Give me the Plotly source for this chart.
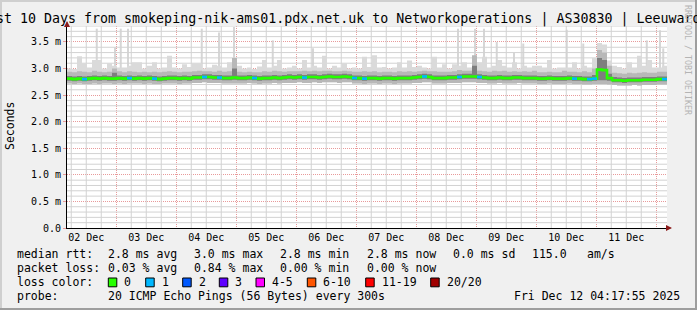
import pandas as pd
import plotly.graph_objects as go

# ---------------- data ----------------
start_time = "2025-12-02 04:17:55"
n_bins = 120  # 2-hour bins over 10 days

median_ms = [
    2.81, 2.80, 2.81, 2.80, 2.81, 2.82, 2.81, 2.82, 2.81, 2.81,
    2.82, 2.81, 2.82, 2.81, 2.82, 2.81, 2.82, 2.81, 2.80, 2.81,
    2.82, 2.82, 2.81, 2.82, 2.81, 2.83, 2.83, 2.84, 2.84, 2.83,
    2.83, 2.82, 2.82, 2.83, 2.82, 2.82, 2.83, 2.82, 2.81, 2.82,
    2.82, 2.83, 2.82, 2.83, 2.84, 2.83, 2.84, 2.83, 2.84, 2.84,
    2.83, 2.84, 2.85, 2.84, 2.84, 2.85, 2.84, 2.82, 2.82, 2.81,
    2.82, 2.82, 2.81, 2.82, 2.82, 2.81, 2.82, 2.82, 2.82, 2.83,
    2.84, 2.85, 2.84, 2.82, 2.82, 2.82, 2.83, 2.83, 2.84, 2.85,
    2.85, 2.85, 2.84, 2.83, 2.82, 2.82, 2.83, 2.82, 2.82, 2.83,
    2.83, 2.82, 2.82, 2.82, 2.81, 2.81, 2.82, 2.81, 2.81, 2.81,
    2.82, 2.81, 2.81, 2.80, 2.80, 2.81, 2.98, 2.97, 2.82, 2.78,
    2.78, 2.77, 2.78, 2.78, 2.78, 2.79, 2.79, 2.79, 2.80, 2.80,
]

smoke_max = [
    3.00, 2.99, 3.23, 3.10, 3.02, 3.16, 3.16, 3.00, 3.10, 3.05,
    3.02, 3.02, 3.05, 3.12, 3.12, 3.00, 3.05, 3.12, 3.00, 3.02,
    3.24, 3.02, 3.00, 3.08, 3.03, 3.10, 3.10, 3.00, 3.02, 3.07,
    3.05, 3.02, 3.12, 3.10, 3.05, 3.00, 3.02, 2.99, 3.04, 3.16,
    3.02, 3.05, 3.16, 3.00, 3.02, 3.05, 3.00, 3.16, 3.02, 3.05,
    3.02, 3.24, 3.00, 3.05, 3.02, 3.10, 3.00, 3.02, 3.00, 3.22,
    3.03, 3.25, 3.02, 3.03, 3.00, 3.02, 3.12, 3.02, 3.15, 3.03,
    3.05, 3.02, 3.00, 3.22, 3.02, 3.08, 3.00, 3.08, 3.05, 3.12,
    3.02, 3.10, 3.12, 3.22, 3.02, 3.05, 3.16, 3.05, 3.02, 3.12,
    3.00, 3.05, 3.02, 3.05, 3.05, 3.02, 3.16, 3.00, 3.02, 3.02,
    3.02, 3.12, 3.00, 3.05, 3.02, 3.20, 3.48, 3.45, 3.15, 3.05,
    3.03, 3.00, 3.12, 3.02, 3.24, 3.05, 3.16, 3.02, 3.02, 3.05,
]

smoke_p90 = [
    2.94, 2.93, 2.95, 2.94, 2.93, 2.96, 2.94, 2.93, 2.94, 3.00,
    2.95, 2.93, 2.95, 2.94, 2.93, 2.94, 2.93, 2.94, 2.93, 2.94,
    2.95, 2.94, 2.93, 2.94, 2.94, 2.95, 2.96, 2.95, 2.95, 2.94,
    2.96, 2.94, 2.95, 3.20, 2.94, 2.93, 2.94, 2.93, 2.93, 2.95,
    2.94, 2.96, 2.95, 2.94, 2.95, 2.95, 2.95, 2.96, 2.95, 2.96,
    2.95, 2.96, 2.96, 2.95, 2.95, 2.96, 2.95, 2.94, 2.94, 2.95,
    2.94, 2.95, 2.93, 2.94, 2.94, 2.93, 2.95, 2.94, 2.95, 2.94,
    2.95, 2.96, 2.95, 2.95, 2.94, 2.94, 2.94, 2.95, 2.97, 2.96,
    2.96, 3.25, 2.96, 2.95, 2.94, 2.96, 2.95, 2.96, 2.94, 2.95,
    2.94, 2.95, 2.94, 2.96, 2.93, 2.93, 2.94, 2.93, 2.93, 2.96,
    2.94, 2.94, 2.93, 2.95, 2.93, 3.00, 3.35, 3.30, 3.05, 2.92,
    2.91, 2.90, 2.92, 2.91, 2.92, 2.93, 2.92, 2.92, 2.94, 2.94,
]

smoke_p75 = [
    2.86, 2.85, 2.86, 2.85, 2.86, 2.87, 2.86, 2.87, 2.86, 2.92,
    2.87, 2.86, 2.87, 2.86, 2.87, 2.86, 2.87, 2.86, 2.85, 2.86,
    2.87, 2.87, 2.86, 2.87, 2.86, 2.88, 2.88, 2.89, 2.89, 2.88,
    2.88, 2.87, 2.87, 3.00, 2.87, 2.87, 2.88, 2.87, 2.86, 2.87,
    2.87, 2.88, 2.87, 2.88, 2.89, 2.88, 2.89, 2.88, 2.89, 2.89,
    2.88, 2.89, 2.90, 2.89, 2.89, 2.90, 2.89, 2.87, 2.87, 2.86,
    2.87, 2.87, 2.86, 2.87, 2.87, 2.86, 2.87, 2.87, 2.87, 2.88,
    2.89, 2.90, 2.89, 2.87, 2.87, 2.87, 2.88, 2.88, 2.89, 2.90,
    2.90, 3.05, 2.89, 2.88, 2.87, 2.87, 2.88, 2.87, 2.87, 2.88,
    2.88, 2.87, 2.87, 2.87, 2.86, 2.86, 2.87, 2.86, 2.86, 2.86,
    2.87, 2.86, 2.86, 2.85, 2.85, 2.88, 3.20, 3.16, 2.90, 2.84,
    2.83, 2.82, 2.83, 2.83, 2.83, 2.84, 2.84, 2.84, 2.85, 2.85,
]

smoke_p25 = [
    2.77, 2.76, 2.77, 2.76, 2.77, 2.78, 2.77, 2.78, 2.77, 2.77,
    2.78, 2.77, 2.78, 2.77, 2.78, 2.77, 2.78, 2.77, 2.76, 2.77,
    2.78, 2.78, 2.77, 2.78, 2.77, 2.79, 2.79, 2.80, 2.80, 2.79,
    2.79, 2.78, 2.78, 2.79, 2.78, 2.78, 2.79, 2.78, 2.77, 2.78,
    2.78, 2.79, 2.78, 2.79, 2.80, 2.79, 2.80, 2.79, 2.80, 2.80,
    2.79, 2.80, 2.81, 2.80, 2.80, 2.81, 2.80, 2.78, 2.78, 2.77,
    2.78, 2.78, 2.77, 2.78, 2.78, 2.77, 2.78, 2.78, 2.78, 2.79,
    2.80, 2.81, 2.80, 2.78, 2.78, 2.78, 2.79, 2.79, 2.80, 2.81,
    2.81, 2.81, 2.80, 2.79, 2.78, 2.78, 2.79, 2.78, 2.78, 2.79,
    2.79, 2.78, 2.78, 2.78, 2.77, 2.77, 2.78, 2.77, 2.77, 2.77,
    2.78, 2.77, 2.77, 2.76, 2.76, 2.77, 2.78, 2.78, 2.77, 2.74,
    2.74, 2.73, 2.74, 2.74, 2.74, 2.75, 2.75, 2.75, 2.76, 2.76,
]

smoke_min = [
    2.72, 2.71, 2.72, 2.71, 2.71, 2.72, 2.71, 2.72, 2.72, 2.71,
    2.72, 2.71, 2.72, 2.72, 2.72, 2.71, 2.72, 2.71, 2.71, 2.72,
    2.72, 2.72, 2.71, 2.72, 2.72, 2.73, 2.73, 2.74, 2.73, 2.73,
    2.73, 2.72, 2.72, 2.72, 2.72, 2.72, 2.73, 2.72, 2.71, 2.72,
    2.72, 2.73, 2.72, 2.73, 2.73, 2.73, 2.74, 2.73, 2.73, 2.74,
    2.73, 2.74, 2.74, 2.74, 2.73, 2.74, 2.74, 2.72, 2.72, 2.71,
    2.72, 2.72, 2.71, 2.72, 2.72, 2.71, 2.72, 2.72, 2.72, 2.73,
    2.73, 2.74, 2.74, 2.72, 2.72, 2.72, 2.73, 2.73, 2.73, 2.74,
    2.74, 2.74, 2.73, 2.73, 2.72, 2.72, 2.73, 2.72, 2.72, 2.72,
    2.73, 2.72, 2.72, 2.72, 2.71, 2.71, 2.72, 2.71, 2.71, 2.71,
    2.72, 2.71, 2.71, 2.70, 2.70, 2.71, 2.71, 2.71, 2.70, 2.69,
    2.68, 2.68, 2.68, 2.69, 2.68, 2.69, 2.69, 2.69, 2.70, 2.70,
]

# isolated single-ping outliers (thin light smoke spikes)
spike_times = [
    "2025-12-02 16:12", "2025-12-02 23:30", "2025-12-03 01:48", "2025-12-03 04:42",
    "2025-12-04 10:12", "2025-12-04 17:06", "2025-12-04 23:06", "2025-12-05 14:36",
    "2025-12-06 06:42", "2025-12-08 16:42", "2025-12-08 23:30", "2025-12-09 03:06",
    "2025-12-09 08:12", "2025-12-09 15:06", "2025-12-09 18:48", "2025-12-10 12:12",
    "2025-12-10 18:48", "2025-12-11 20:12", "2025-12-12 01:30", "2025-12-12 02:48",
]
spike_ms = [
    3.75, 3.40, 3.75, 3.75,
    3.75, 3.68, 3.78, 3.53,
    3.38, 3.75, 3.75, 3.75,
    3.50, 3.30, 3.47, 3.73,
    3.47, 3.53, 3.72, 3.38,
]

# bins where pings were lost (index, lost pings)
loss_bins = [3, 12, 17, 27, 30, 37, 47, 57, 59, 71, 78, 82, 101, 104, 105, 119]
loss_counts = [1] * len(loss_bins)

ytick_vals = [0.0, 0.5, 1.0, 1.5, 2.0, 2.5, 3.0, 3.5]
ytick_text = ["0.0", "0.5 m", "1.0 m", "1.5 m", "2.0 m", "2.5 m", "3.0 m", "3.5 m"]

title_text = "Last 10 Days from smokeping-nik-ams01.pdx.net.uk to Networkoperations | AS30830 | Leeuwarden"
rtt_stats = ["2.8 ms avg", "3.0 ms max", "2.8 ms min", "2.8 ms now", "0.0 ms sd", "115.0", "am/s"]
loss_stats = ["0.03 % avg", "0.84 % max", "0.00 % min", "0.00 % now"]
loss_labels = ["0", "1", "2", "3", "4-5", "6-10", "11-19", "20/20"]
loss_colors = ["#26ff00", "#00b8ff", "#0059ff", "#5e00ff", "#ff00ff", "#ff5500", "#ff0000", "#a00000"]
probe_text = "20 ICMP Echo Pings (56 Bytes) every 300s"
stamp_text = "Fri Dec 12 04:17:55 2025"

# ---------------- geometry helpers ----------------
W, H = 697, 310
L, R, T, B = 67, 667, 26, 228
PW, PH = R - L, B - T
Y_TOP = 3.8


def px(x):
    return (x - L) / PW


def py(y):
    return (B - y) / PH


MONO = "DejaVu Sans Mono"
PX_MS = 10 * 86400000 / PW  # milliseconds of time per pixel

edges = pd.date_range(pd.Timestamp(start_time), periods=n_bins + 1, freq="2h")
x_range = [edges[0], edges[-1]]

# grid positions: major at midnight / every 0.5 ms, minor every 6 h / 0.1 ms
six_hourly = pd.date_range("2025-12-02 06:00", "2025-12-12 00:00", freq="6h")
minor_x = [t.strftime("%Y-%m-%d %H:%M:%S") for t in six_hourly if t.hour != 0]
minor_y = [round(i * 0.1, 2) for i in range(1, 39) if i % 5 != 0]

GRID_DASH = "1px,1px"
MAJOR = "#e89a9a"
MINOR = "#d2d2d2"


def step(a):
    return list(a) + [a[-1]]


fig = go.Figure()

# minor grid drawn as thin guide lines beneath everything
gx, gy = [], []
for t in minor_x:
    gx += [t, t, None]
    gy += [0, Y_TOP, None]
fig.add_trace(go.Scatter(x=gx, y=gy, mode="lines",
                         line=dict(color=MINOR, width=1),
                         hoverinfo="skip", showlegend=False))
hx, hy = [], []
for v in minor_y:
    hx += [edges[0], edges[-1], None]
    hy += [v, v, None]
fig.add_trace(go.Scatter(x=hx, y=hy, mode="lines",
                         line=dict(color=MINOR, width=1),
                         hoverinfo="skip", showlegend=False))

spike_base = 2.95
fig.add_trace(go.Bar(x=pd.to_datetime(spike_times), y=[v - spike_base for v in spike_ms],
                     base=spike_base, width=2 * PX_MS,
                     marker=dict(color="#d6d6d6", line=dict(width=0)),
                     hoverinfo="skip", showlegend=False))


def band(lo, hi, color):
    fig.add_trace(go.Scatter(x=edges, y=step(lo), mode="lines",
                             line=dict(width=0, shape="hv", color=color),
                             hoverinfo="skip", showlegend=False))
    fig.add_trace(go.Scatter(x=edges, y=step(hi), mode="lines",
                             line=dict(width=0, shape="hv", color=color),
                             fill="tonexty", fillcolor=color,
                             hoverinfo="skip", showlegend=False))


band(smoke_min, smoke_max, "#dadada")
band(smoke_min, smoke_p90, "#b8b8b8")
band(smoke_p25, smoke_p75, "#7e7e7e")

fig.add_trace(go.Scatter(x=edges, y=step(median_ms), mode="lines",
                         line=dict(width=2.6, shape="hv", color=loss_colors[0]),
                         hoverinfo="skip", showlegend=False))

lx, ly = [], []
for k, c in zip(loss_bins, loss_counts):
    lx += [edges[k], edges[k + 1], None]
    ly += [median_ms[k], median_ms[k], None]
fig.add_trace(go.Scatter(x=lx, y=ly, mode="lines",
                         line=dict(width=2.6, color=loss_colors[1]),
                         hoverinfo="skip", showlegend=False))

annotations = []


def txt(s, x, y, size=11.5, anchor="left", color="black", angle=0):
    annotations.append(dict(text=s, x=px(x), y=py(y), xref="paper", yref="paper",
                            xanchor=anchor, yanchor="middle", showarrow=False,
                            textangle=angle, borderpad=0,
                            font=dict(family=MONO, size=size, color=color)))


# title & labels
txt(title_text, 348.9, 19, size=13.3, anchor="center")
txt("Seconds", 10, 126, size=11.5, anchor="center", angle=-90)
txt("RRDTOOL / TOBI OETIKER", 688, 60, size=8.3, anchor="center", color="#b4b4b4", angle=90)

# legend rows
cols = [107.3, 193.3, 279, 365.7, 451.7, 531, 586]
txt("median rtt:", 16, 254.3)
for s, x in zip(rtt_stats, cols):
    txt(s, x, 254.3)
txt("packet loss:", 16, 268.3)
for s, x in zip(loss_stats, cols):
    txt(s, x, 268.3)
txt("loss color:", 16, 282.3)
box_x = [108.3, 145.7, 182.7, 219.3, 256, 307.3, 365.7, 430.7]
shapes = []
for bx, lab, col in zip(box_x, loss_labels, loss_colors):
    shapes.append(dict(type="rect", xref="paper", yref="paper",
                       x0=px(bx), x1=px(bx + 8.5), y0=py(286.8), y1=py(278),
                       fillcolor=col, line=dict(color="black", width=1)))
    txt(lab, bx + 15, 282.3)
txt("probe:", 16, 296)
txt(probe_text, 107.3, 296)
txt(stamp_text, 513.3, 296)

# axis arrows
annotations.append(dict(x=px(672), y=0, xref="paper", yref="paper", ax=-7, ay=0,
                        text="", showarrow=True, arrowhead=2, arrowsize=1,
                        arrowwidth=1.2, arrowcolor="#8b1a1a"))
annotations.append(dict(x=0, y=py(21), xref="paper", yref="paper", ax=0, ay=7,
                        text="", showarrow=True, arrowhead=2, arrowsize=1,
                        arrowwidth=1.2, arrowcolor="#8b1a1a"))

# 3D frame
shapes += [
    dict(type="rect", xref="paper", yref="paper", x0=px(0), x1=px(W), y0=py(0), y1=py(2),
         fillcolor="#cfcfcf", line=dict(width=0), layer="above"),
    dict(type="rect", xref="paper", yref="paper", x0=px(0), x1=px(2), y0=py(0), y1=py(H),
         fillcolor="#cfcfcf", line=dict(width=0), layer="above"),
    dict(type="rect", xref="paper", yref="paper", x0=px(0), x1=px(W), y0=py(H - 2), y1=py(H),
         fillcolor="#9e9e9e", line=dict(width=0), layer="above"),
    dict(type="rect", xref="paper", yref="paper", x0=px(W - 2), x1=px(W), y0=py(0), y1=py(H),
         fillcolor="#9e9e9e", line=dict(width=0), layer="above"),
]

fig.update_layout(
    width=W, height=H,
    margin=dict(l=L, r=W - R, t=T, b=H - B, pad=0),
    paper_bgcolor="#f0f0f0", plot_bgcolor="white",
    showlegend=False, barmode="overlay",
    annotations=annotations, shapes=shapes,
    xaxis=dict(
        type="date", range=x_range,
        tick0="2025-12-03 00:00:00", dtick=86400000,
        tickformat="%d %b", ticklabelmode="period",
        showgrid=True, gridcolor=MAJOR, griddash=GRID_DASH, gridwidth=1,
        showline=True, linecolor="black", linewidth=1,
        ticks="", zeroline=False,
        tickfont=dict(family=MONO, size=10, color="black"),
        fixedrange=True,
    ),
    yaxis=dict(
        range=[0, Y_TOP], tickmode="array", tickvals=ytick_vals, ticktext=ytick_text,
        showgrid=True, gridcolor=MAJOR, griddash=GRID_DASH, gridwidth=1,
        showline=True, linecolor="black", linewidth=1,
        ticks="outside", ticklen=3, tickcolor=MAJOR, zeroline=False,
        tickfont=dict(family=MONO, size=10, color="black"),
        fixedrange=True,
    ),
)

fig.write_html("out.html")
